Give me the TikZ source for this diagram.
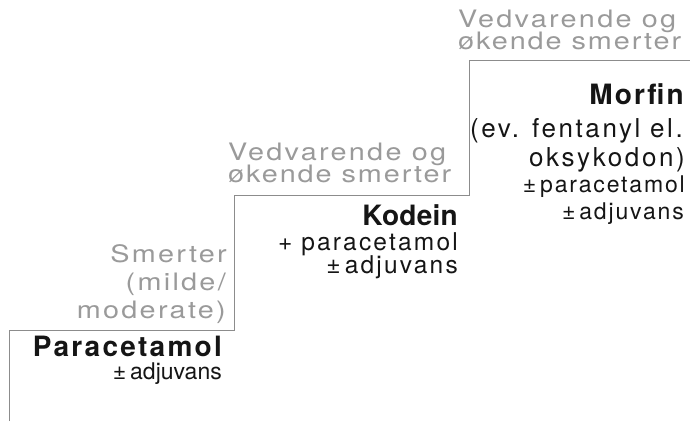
\documentclass[tikz,border=0pt]{standalone}
\usepackage{fontspec}
\setmainfont{TeX Gyre Heros}
\newfontfamily\grayf[LetterSpace=9.5,FakeStretch=1.2]{TeX Gyre Heros}
\newfontfamily\grayg[LetterSpace=8,FakeStretch=1.2]{TeX Gyre Heros}
\newfontfamily\regf[LetterSpace=10]{TeX Gyre Heros}
\newfontfamily\midf[LetterSpace=9]{TeX Gyre Heros}
\newfontfamily\smallf[LetterSpace=8]{TeX Gyre Heros}
\newfontfamily\plainf{TeX Gyre Heros}
\newfontfamily\headf[LetterSpace=5]{TeX Gyre Heros}
\definecolor{lightgraytext}{HTML}{9A9A9A}
\definecolor{stairline}{HTML}{8C8C8C}
\definecolor{inktext}{HTML}{151515}
\tikzset{
  graytxt/.style={inner sep=0pt, text=lightgraytext, font=\grayf\fontsize{24}{28}\selectfont},
  graytxtb/.style={inner sep=0pt, text=lightgraytext, font=\grayg\fontsize{24}{28}\selectfont},
  headtxt/.style={inner sep=0pt, anchor=base east, text=inktext, font=\headf\bfseries\fontsize{28}{30}\selectfont},
  bigtxt/.style={inner sep=0pt, anchor=base east, text=inktext, font=\regf\fontsize{26}{28}\selectfont},
  midtxt/.style={inner sep=0pt, anchor=base east, text=inktext, font=\midf\fontsize{24.5}{28}\selectfont},
  smalltxt/.style={inner sep=0pt, anchor=base east, text=inktext, font=\smallf\fontsize{23}{26}\selectfont},
  plaintxt/.style={inner sep=0pt, anchor=base east, text=inktext, font=\plainf\fontsize{23}{26}\selectfont},
  stair/.style={draw=stairline, line width=0.9pt}
}
\begin{document}
\begin{tikzpicture}[x=1pt,y=-1pt]
\useasboundingbox (0,0) rectangle (690,421);
\fill[white] (0,0) rectangle (690,421);
% staircase
\draw[stair] (9,421) -- (9,330) -- (234,330) -- (234,195) -- (469,195) -- (469,60) -- (690,60);
% step 1
\node[graytxt, anchor=base east] (s1a) at (227,262) {Smerter};
\node[graytxt, anchor=base east] (s1b) at (226,290) {(milde/};
\node[graytxt, anchor=base east] (s1c) at (226,318) {moderate)};
\node[headtxt, font=\headf\bfseries\fontsize{28}{30}\selectfont\addfontfeature{LetterSpace=8}] (p1) at (222,356) {Paracetamol};
\node[plaintxt] (p1b) at (222,379) {±\,adjuvans};
% step 2
\node[graytxt, anchor=base west] (s2a) at (228,160) {Vedvarende og};
\node[graytxtb, anchor=base west] (s2b) at (228,182) {økende smerter};
\node[headtxt, font=\headf\bfseries\fontsize{28}{30}\selectfont\addfontfeature{LetterSpace=1}] (k2) at (458,225) {Kodein};
\node[midtxt] (k2b) at (458,250) {+\hspace{9pt}paracetamol};
\node[midtxt] (k2c) at (458,273) {±\,adjuvans};
% step 3
\node[graytxt, anchor=base west] (s3a) at (458,27) {Vedvarende og};
\node[graytxtb, anchor=base west] (s3b) at (458,49) {økende smerter};
\node[headtxt, font=\headf\bfseries\fontsize{28}{30}\selectfont\addfontfeature{LetterSpace=8}] (m3) at (684,104) {Morfin};
\node[bigtxt] (m3b) at (683,137) {(ev. fentanyl el.};
\node[bigtxt] (m3c) at (685,166) {oksykodon)};
\node[smalltxt] (m3d) at (685,192) {±\,paracetamol};
\node[smalltxt] (m3e) at (684,219) {±\,adjuvans};
\end{tikzpicture}
\end{document}
